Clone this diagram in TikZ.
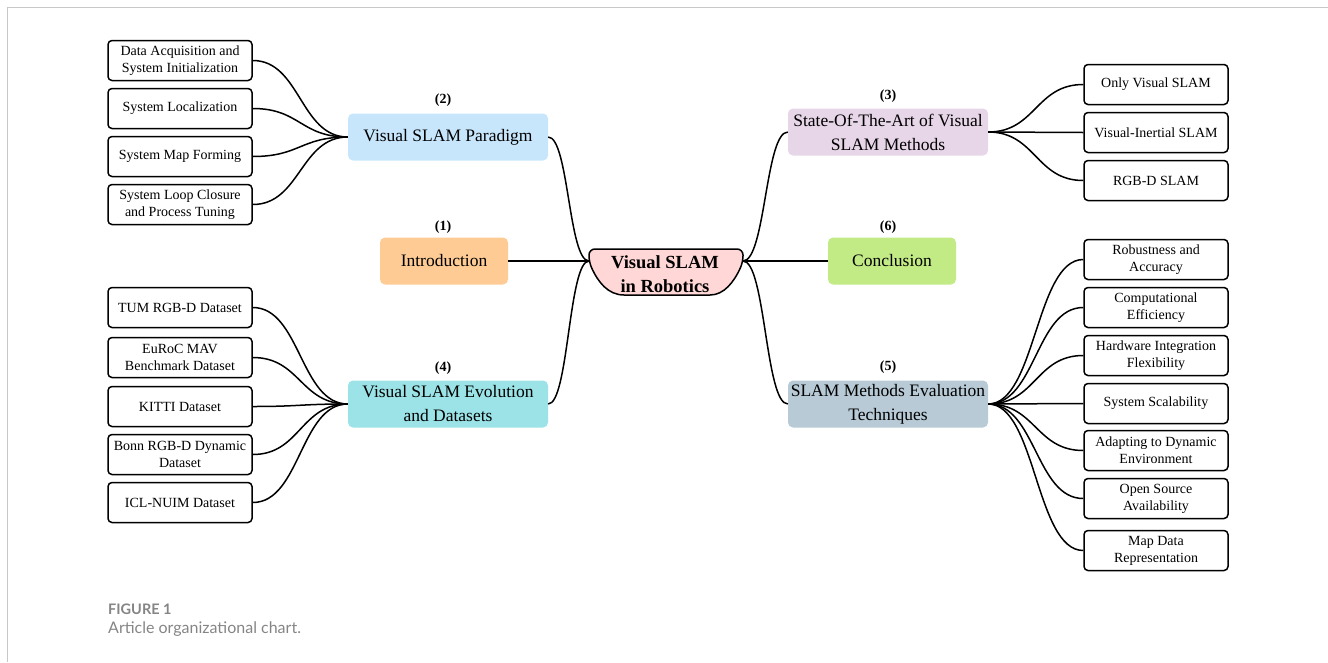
\documentclass[tikz,border=0pt]{standalone}
\usepackage{fontspec}
\setmainfont{Liberation Serif}
\newfontfamily\capfont{Lato}
\usepackage{xcolor}
\usetikzlibrary{calc}
\definecolor{framegray}{HTML}{C8C8C8}
\definecolor{capgray}{HTML}{858585}
\definecolor{hubpink}{HTML}{FFD7D7}
\definecolor{introorange}{HTML}{FECB95}
\definecolor{parablue}{HTML}{C7E6FB}
\definecolor{evocyan}{HTML}{9BE3E6}
\definecolor{statelilac}{HTML}{E7D5E8}
\definecolor{conclgreen}{HTML}{C2EB85}
\definecolor{evalslate}{HTML}{B7CAD6}
\tikzset{
  leaf/.style={draw=black,line width=1.5pt,rounded corners=4pt,fill=white,minimum width=144pt,minimum height=40pt,inner sep=1pt,align=center,font=\fontsize{14}{17}\selectfont,yshift=-0.5pt},
  topic/.style={rounded corners=5pt,minimum width=200pt,minimum height=47pt,inner sep=1pt,align=center,font=\fontsize{17.5}{24}\selectfont},
  tag/.style={font=\bfseries\fontsize{14}{16}\selectfont},
  link/.style={line width=1.5pt,to path={let \p1=(\tikztostart),\p2=(\tikztotarget) in
    .. controls ({0.5*\x1+0.5*\x2},\y1) and ({0.5*\x1+0.5*\x2},\y2) .. (\tikztotarget)}},
}
\begin{document}
\begin{tikzpicture}[x=1pt,y=-1pt]
  \useasboundingbox (0,0) rectangle (1328,662);
  \draw[framegray,line width=1pt] (1328,7) -- (7,7) -- (7,662);

  % hub
  \draw[line width=1.5pt,fill=hubpink,rounded corners=6pt] (589,249) -- (743,249) -- (743,262)
    .. controls (734,282) and (724,295) .. (704,295) -- (630,295)
    .. controls (608,295) and (598,282) .. (589,262) -- cycle;
  \node[font=\bfseries\fontsize{18.5}{24}\selectfont,align=center] (hub) at (665,274) {Visual SLAM\\in Robotics};
  \coordinate (hubL) at (589,261);
  \coordinate (hubR) at (743,261);

  % left topics
  \node[topic,fill=parablue] (para) at (448,137) {Visual SLAM Paradigm};
  \node[tag] at (443,100) {(2)};
  \node[topic,fill=introorange,minimum width=128pt] (intro) at (444,261) {Introduction};
  \node[tag] at (443,227) {(1)};
  \node[topic,fill=evocyan] (evo) at (448,404) {Visual SLAM Evolution\\and Datasets};
  \node[tag] at (443,368) {(4)};

  % right topics
  \node[topic,fill=statelilac] (sota) at (888,132) {State-Of-The-Art of Visual\\SLAM Methods};
  \node[tag] at (888,96) {(3)};
  \node[topic,fill=conclgreen,minimum width=128pt] (concl) at (892,261) {Conclusion};
  \node[tag] at (888,227) {(6)};
  \node[topic,fill=evalslate] (eval) at (888,404) {SLAM Methods Evaluation\\Techniques};
  \node[tag] at (888,367) {(5)};

  % paradigm leaves
  \node[leaf] (pa1) at (180,60) {Data Acquisition and\\System Initialization};
  \node[leaf] (pa2) at (180,108) {System Localization};
  \node[leaf] (pa3) at (180,156) {System Map Forming};
  \node[leaf] (pa4) at (180,204) {System Loop Closure\\and Process Tuning};

  % dataset leaves
  \node[leaf] (ds1) at (180,307) {TUM RGB-D Dataset};
  \node[leaf] (ds2) at (180,357) {EuRoC MAV\\Benchmark Dataset};
  \node[leaf] (ds3) at (180,406) {KITTI Dataset};
  \node[leaf] (ds4) at (180,454) {Bonn RGB-D Dynamic\\Dataset};
  \node[leaf] (ds5) at (180,502) {ICL-NUIM Dataset};

  % method leaves
  \node[leaf] (me1) at (1156,84) {Only Visual SLAM};
  \node[leaf] (me2) at (1156,132) {Visual-Inertial SLAM};
  \node[leaf] (me3) at (1156,180) {RGB-D SLAM};

  % evaluation leaves
  \node[leaf] (ev1) at (1156,259) {Robustness and\\Accuracy};
  \node[leaf] (ev2) at (1156,307) {Computational\\Efficiency};
  \node[leaf] (ev3) at (1156,355) {Hardware Integration\\Flexibility};
  \node[leaf] (ev4) at (1156,403) {System Scalability};
  \node[leaf] (ev5) at (1156,450) {Adapting to Dynamic\\Environment};
  \node[leaf] (ev6) at (1156,498) {Open Source\\Availability};
  \node[leaf] (ev7) at (1156,550) {Map Data\\Representation};

  % hub links
  \draw[link] (hubL) to (intro.east);
  \draw[link] (hubL) to (para.east);
  \draw[link] (hubL) to (evo.east);
  \draw[link] (hubR) to (concl.west);
  \draw[link] (hubR) to (sota.west);
  \draw[link] (hubR) to (eval.west);

  % leaf links
  \foreach \lf in {pa1,pa2,pa3,pa4}
    \draw[link] (\lf.east) to (para.west);
  \foreach \lf in {ds1,ds2,ds3,ds4,ds5}
    \draw[link] (\lf.east) to (evo.west);
  \foreach \lf in {me1,me2,me3}
    \draw[link] (sota.east) to (\lf.west);
  \foreach \lf in {ev1,ev2,ev3,ev4,ev5,ev6,ev7}
    \draw[link] (eval.east) to (\lf.west);

  % caption
  \node[anchor=west,font=\capfont\bfseries\fontsize{14.5}{16}\selectfont,text=capgray,inner sep=0pt] (fig) at (108,609) {FIGURE 1};
  \node[anchor=west,font=\capfont\fontsize{16}{18}\selectfont,text=capgray,inner sep=0pt] (cap) at (108,629) {Article organizational chart.};
\end{tikzpicture}
\end{document}
